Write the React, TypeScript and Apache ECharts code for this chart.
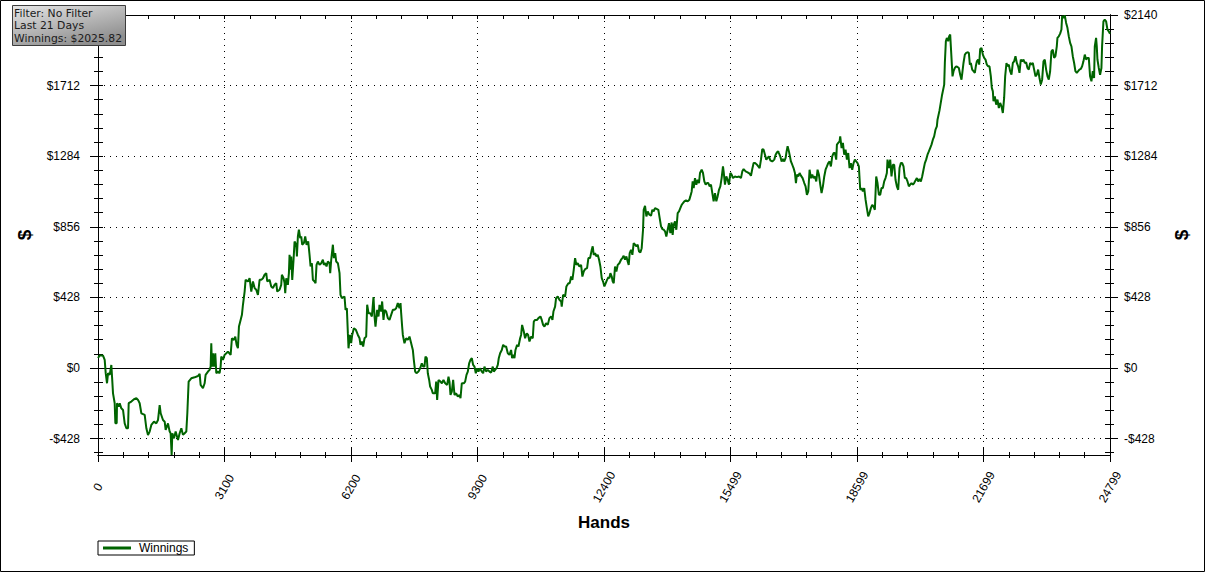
import React, { useEffect, useRef } from "react";
import * as echarts from "echarts";

// ---- data (hands played, cumulative winnings in $) ----
const HANDS_MAX = 24799;
const Y_MIN = -528;
const Y_MAX = 2140;
const yMajorTicks = [-428, 0, 428, 856, 1284, 1712, 2140];
// the info box hides the top label on the left side
const yLeftLabels = [-428, 0, 428, 856, 1284, 1712];
const infoLines = ["Filter: No Filter", "Last 21 Days", "Winnings: $2025.82"];
const seriesName = "Winnings";
const xTitle = "Hands";
const yTitle = "$";

const run1: [number, number][] = [
  [0, 60], [42, 75], [123, 75], [164, 49], [189, -32], [221, -93], [246, -32], [287, -42], [327, 18], [344, -53],
  [368, -154], [409, -214], [425, -336], [458, -336], [466, -214], [507, -235], [532, -214], [572, -245], [613, -255], [654, -336],
  [695, -366], [736, -366], [752, -214], [817, -204], [882, -190], [940, -184], [981, -194], [1021, -214], [1062, -275], [1144, -285],
  [1185, -366], [1225, -407], [1266, -386], [1307, -346], [1372, -326], [1429, -336], [1470, -316], [1511, -225], [1536, -275], [1593, -316],
  [1634, -326], [1658, -376], [1715, -336], [1756, -386], [1780, -397], [1805, -528], [1821, -396], [1862, -427], [1903, -386], [1960, -437],
  [2001, -396], [2042, -366], [2082, -406], [2123, -396], [2164, -386], [2189, -275], [2221, -83], [2286, -63], [2368, -57], [2450, -49],
  [2491, -36], [2515, -103], [2572, -123], [2613, -93], [2637, -42], [2695, -22], [2735, -12], [2760, 8], [2776, 150], [2793, 8],
  [2817, 89], [2842, 8], [2874, 89], [2899, -32], [2940, -22], [2980, -32], [3005, 8], [3021, 69], [3062, 49], [3103, 79],
  [3144, 89], [3184, 99], [3250, 79], [3282, 180], [3331, 170], [3364, 190], [3397, 140], [3429, 120], [3454, 251], [3495, 291],
  [3527, 322], [3552, 383], [3593, 463], [3617, 534], [3674, 524], [3715, 544], [3756, 463], [3797, 524], [3838, 484], [3878, 474],
  [3919, 443], [3960, 534], [4001, 534], [4042, 544], [4082, 565],
];

const run2: [number, number][] = [
  [4123, 575], [4147, 524], [4204, 534], [4245, 494], [4286, 484], [4327, 504], [4368, 514], [4392, 463], [4449, 474], [4490, 504],
  [4506, 565], [4547, 544], [4572, 514], [4588, 453], [4613, 544], [4653, 504], [4678, 575], [4694, 686], [4719, 595], [4735, 676],
  [4760, 534], [4792, 656], [4817, 767], [4858, 747], [4874, 676], [4898, 797], [4923, 838], [4955, 787], [4980, 797], [5004, 747],
  [5045, 757], [5078, 797], [5111, 747], [5151, 767], [5184, 686], [5209, 615], [5241, 635], [5266, 534], [5306, 524], [5331, 514],
  [5355, 625], [5388, 645], [5429, 625], [5470, 635], [5511, 656], [5535, 625], [5568, 635], [5600, 615], [5633, 645], [5674, 635],
  [5690, 575], [5715, 656], [5756, 747], [5780, 666], [5813, 696], [5837, 645], [5878, 635], [5919, 575], [5943, 443], [5976, 423],
  [6041, 433], [6066, 352], [6098, 362], [6123, 211], [6139, 119], [6172, 200], [6204, 150], [6229, 200], [6270, 241], [6319, 231],
  [6368, 200], [6409, 180], [6433, 140], [6466, 160], [6498, 130], [6531, 180], [6572, 190], [6596, 383], [6629, 332], [6670, 332],
  [6711, 312], [6751, 429], [6776, 312], [6800, 251], [6841, 352], [6874, 312], [6898, 382], [6939, 342], [6963, 403], [6996, 291],
  [7021, 352], [7061, 342], [7102, 302], [7143, 291], [7184, 322], [7225, 352], [7266, 352], [7306, 362], [7347, 393], [7388, 362],
  [7413, 393], [7429, 332], [7453, 251], [7470, 200], [7510, 150], [7551, 180], [7592, 170], [7633, 190], [7674, 150], [7715, 109],
  [7739, 49], [7772, -22], [7804, -32], [7853, -22], [7894, -2], [7935, 28], [7968, 8], [8000, 8], [8025, 69], [8058, 59],
  [8082, -32], [8115, -73], [8139, -113], [8180, -133], [8204, -154], [8262, -154],
];

const run3: [number, number][] = [
  [8287, -83], [8311, -194], [8344, -73], [8393, -83], [8426, -93], [8466, -73], [8507, -93], [8556, -103], [8589, -53], [8613, -83],
  [8638, -164], [8670, -144], [8703, -73], [8736, -164], [8777, -154], [8817, -174], [8858, -164], [8883, -184], [8915, -93], [8964, -93],
  [8997, -83], [9030, -42], [9062, -22], [9095, 28], [9128, 49], [9160, 59], [9193, 18], [9226, 8], [9258, -32], [9291, -2],
  [9324, -22], [9356, -2], [9405, -22], [9438, -32], [9470, 8], [9511, -22], [9552, -12], [9593, -22], [9633, -28], [9674, 8],
  [9699, -22], [9732, -12], [9764, -2], [9797, 18], [9821, 59], [9854, 89], [9895, 109], [9928, 140], [9960, 130], [10001, 130],
  [10042, 89], [10083, 79], [10123, 109], [10148, 59], [10180, 79], [10205, 59], [10230, 109], [10270, 140], [10303, 130], [10344, 180],
  [10368, 200], [10393, 261], [10434, 221], [10466, 180], [10507, 210], [10540, 200], [10573, 160], [10613, 190], [10654, 180], [10679, 281],
  [10711, 291], [10760, 291], [10793, 302], [10842, 312], [10874, 291], [10907, 261], [10940, 251], [10980, 271], [11021, 261], [11062, 302],
  [11103, 312], [11136, 291], [11160, 342], [11201, 372], [11225, 423], [11266, 433], [11307, 413], [11348, 403], [11364, 372], [11397, 443],
  [11446, 433], [11478, 494], [11527, 514], [11560, 514], [11593, 554], [11625, 534], [11658, 595], [11691, 666], [11723, 625], [11756, 635],
  [11797, 615], [11838, 625], [11870, 554], [11903, 585], [11936, 599], [11985, 605], [12017, 666], [12058, 666], [12099, 716], [12123, 737],
  [12148, 686], [12181, 696], [12213, 676], [12246, 686], [12279, 656], [12311, 615], [12344, 544], [12377, 524], [12409, 494], [12442, 514],
  [12474, 534], [12507, 550],
];

const run4: [number, number][] = [
  [12531, 544], [12556, 575], [12589, 554], [12613, 524], [12638, 514], [12670, 615], [12703, 585], [12736, 625], [12776, 635], [12817, 656],
  [12850, 666], [12882, 680], [12915, 656], [12948, 676], [12980, 645], [13005, 625], [13029, 696], [13062, 716], [13095, 686], [13127, 757],
  [13160, 747], [13193, 737], [13225, 747], [13258, 706], [13291, 700], [13323, 726], [13356, 838], [13372, 959], [13405, 983], [13438, 919],
  [13471, 949], [13511, 929], [13552, 923], [13584, 959], [13617, 949], [13650, 969], [13699, 963], [13731, 959], [13764, 908], [13797, 858],
  [13829, 842], [13862, 838], [13895, 828], [13927, 797], [13960, 838], [13993, 878], [14025, 817], [14058, 882], [14082, 807], [14107, 868],
  [14140, 888], [14172, 838], [14205, 939], [14238, 949], [14270, 969], [14303, 989], [14336, 1000], [14368, 1010], [14409, 1016], [14450, 1010],
  [14491, 1020], [14515, 1040], [14548, 1070], [14572, 1131], [14597, 1091], [14629, 1151], [14662, 1111], [14695, 1141], [14727, 1121], [14752, 1182],
  [14793, 1202], [14825, 1182], [14858, 1131], [14891, 1111], [14923, 1121], [14956, 1121], [14989, 1101], [15021, 1111], [15054, 1060], [15086, 1010],
  [15119, 1060], [15152, 1010], [15184, 1040], [15217, 1080], [15250, 1101], [15282, 1151], [15315, 1222], [15331, 1192], [15364, 1111], [15397, 1161],
  [15429, 1141], [15462, 1111], [15495, 1182], [15527, 1172], [15560, 1151], [15609, 1161], [15658, 1157], [15707, 1161], [15756, 1151], [15789, 1192],
  [15821, 1206], [15870, 1192], [15919, 1186], [15968, 1178], [16001, 1165], [16033, 1206], [16066, 1242], [16107, 1242], [16148, 1232], [16180, 1222],
  [16213, 1212], [16246, 1263], [16278, 1327], [16311, 1323], [16344, 1293], [16376, 1263], [16409, 1273], [16442, 1283], [16474, 1259], [16523, 1252],
  [16572, 1263], [16605, 1293], [16638, 1307], [16670, 1313],
];

const run5: [number, number][] = [
  [16686, 1303], [16719, 1283], [16752, 1252], [16784, 1267], [16817, 1252], [16850, 1273], [16874, 1313], [16899, 1344], [16931, 1313], [16956, 1283],
  [16980, 1252], [17013, 1232], [17045, 1212], [17078, 1182], [17103, 1121], [17127, 1172], [17160, 1161], [17192, 1182], [17225, 1166], [17266, 1151],
  [17307, 1121], [17339, 1101], [17372, 1050], [17405, 1070], [17437, 1202], [17470, 1151], [17503, 1172], [17535, 1151], [17568, 1161], [17601, 1131],
  [17633, 1202], [17666, 1172], [17699, 1111], [17731, 1060], [17764, 1101], [17797, 1161], [17829, 1202], [17862, 1222], [17894, 1242], [17927, 1252],
  [17960, 1222], [17992, 1283], [18025, 1303], [18058, 1303], [18090, 1263], [18107, 1354], [18139, 1364], [18172, 1374], [18188, 1404], [18221, 1333],
  [18254, 1364], [18286, 1293], [18319, 1323], [18352, 1263], [18384, 1303], [18417, 1212], [18449, 1242], [18482, 1202], [18515, 1242], [18547, 1263],
  [18580, 1252], [18613, 1242], [18645, 1222], [18678, 1080], [18711, 1091], [18743, 1070], [18776, 1091], [18809, 1020], [18841, 969], [18874, 919],
  [18906, 939], [18939, 969], [18972, 989], [19004, 979], [19037, 959], [19070, 1161], [19102, 1121], [19135, 1050], [19168, 1050], [19200, 1091],
  [19233, 1091], [19266, 1131], [19298, 1151], [19331, 1182], [19347, 1263], [19380, 1212], [19413, 1263], [19445, 1161], [19478, 1232], [19511, 1232],
  [19543, 1141], [19576, 1101], [19609, 1080], [19641, 1212], [19674, 1242], [19707, 1242], [19739, 1222], [19772, 1151], [19804, 1151], [19837, 1131],
  [19870, 1101], [19902, 1111], [19935, 1121], [19968, 1111], [20000, 1121], [20033, 1137], [20066, 1151], [20098, 1131], [20131, 1145], [20164, 1131],
  [20196, 1161], [20229, 1202], [20262, 1242], [20294, 1263], [20327, 1293], [20360, 1313], [20392, 1333], [20425, 1354], [20458, 1384], [20490, 1404],
  [20523, 1445], [20556, 1465], [20572, 1505], [20620, 1560], [20680, 1650], [20736, 1718],
];

const run6: [number, number][] = [
  [20752, 1849], [20777, 1981], [20801, 2001], [20834, 1981], [20858, 2011], [20883, 2021], [20899, 1950], [20924, 1839], [20940, 1768], [20965, 1799],
  [20997, 1819], [21030, 1829], [21063, 1825], [21095, 1819], [21128, 1778], [21160, 1748], [21185, 1799], [21209, 1849], [21242, 1900], [21275, 1910],
  [21307, 1914], [21340, 1910], [21365, 1839], [21389, 1849], [21422, 1809], [21454, 1799], [21487, 1789], [21511, 1829], [21536, 1859], [21568, 1870],
  [21593, 1839], [21618, 1934], [21650, 1940], [21683, 1900], [21716, 1880], [21748, 1870], [21781, 1839], [21814, 1829], [21846, 1829], [21879, 1768],
  [21903, 1698], [21928, 1677], [21944, 1617], [21977, 1647], [22009, 1596], [22042, 1627], [22075, 1576], [22107, 1607], [22140, 1586], [22173, 1546],
  [22205, 1637], [22230, 1768], [22262, 1849], [22287, 1829], [22320, 1839], [22352, 1799], [22385, 1778], [22418, 1849], [22450, 1859], [22483, 1890],
  [22516, 1849], [22548, 1829], [22581, 1789], [22613, 1870], [22646, 1859], [22679, 1870], [22711, 1849], [22744, 1853], [22777, 1819], [22809, 1809],
  [22842, 1849], [22875, 1839], [22907, 1849], [22940, 1809], [22973, 1768], [23005, 1778], [23038, 1809], [23071, 1758], [23103, 1718], [23136, 1748],
  [23169, 1859], [23201, 1870], [23234, 1809], [23267, 1768], [23299, 1748], [23332, 1799], [23364, 1920], [23397, 1930], [23430, 1880], [23462, 1890],
  [23495, 1950], [23511, 2001], [23544, 2011], [23577, 2027], [23609, 2052], [23626, 2133], [23658, 2122], [23691, 2137], [23724, 2092], [23756, 2062],
  [23789, 2011], [23822, 1971], [23854, 1950], [23887, 1890], [23920, 1849], [23952, 1799], [23985, 1789], [24018, 1799], [24050, 1809], [24083, 1813],
  [24116, 1829], [24148, 1859], [24181, 1900], [24214, 1870], [24246, 1880], [24279, 1880], [24311, 1768], [24344, 1738], [24377, 1799], [24409, 1758],
  [24426, 1950], [24458, 2001], [24475, 1950], [24491, 1870], [24524, 1819], [24556, 1778], [24589, 1819], [24605, 1950], [24638, 2102], [24670, 2112],
  [24703, 2102], [24736, 2052], [24768, 2041], [24799, 2026],
];

const winnings = [...run1, ...run2, ...run3, ...run4, ...run5, ...run6];

// minor tick positions on the $ axis (5 per major step)
const yStep = (yMajorTicks[1] - yMajorTicks[0]) / 5;
const yMinorTicks: number[] = [];
for (let k = Math.ceil(Y_MIN / yStep); k * yStep <= Y_MAX + 1e-6; k++) {
  if (k % 5 !== 0) yMinorTicks.push(+(k * yStep).toFixed(4));
}
const yAllTicks = [...yMinorTicks, ...yMajorTicks].sort((a, b) => a - b);

const BLACK = "#000000";
const GREEN = "#006400";
const FONT = "'Liberation Sans', Arial, sans-serif";

const fmtDollar = (v: number) => (v < 0 ? `-$${Math.round(-v)}` : `$${Math.round(v)}`);

function yAxisDef(position: "left" | "right", kind: "main" | "in" | "out") {
  const base: any = {
    type: "value",
    position,
    min: Y_MIN,
    max: Y_MAX,
    axisLine: { show: true, lineStyle: { color: BLACK, width: 1 } },
    splitLine: { show: false },
    axisLabel: { show: false },
  };
  if (kind === "main") {
    base.axisTick = { show: true, customValues: yMajorTicks, length: 8, inside: false, lineStyle: { color: BLACK } };
    base.axisLabel = {
      show: true,
      customValues: position === "left" ? yLeftLabels : yMajorTicks,
      formatter: fmtDollar,
      margin: position === "left" ? 18 : 14,
      color: BLACK,
      fontSize: 12,
      fontFamily: FONT,
    };
    base.name = yTitle;
    base.nameLocation = "middle";
    base.nameRotate = 90;
    base.nameGap = position === "left" ? 64 : 62;
    base.nameTextStyle = { fontSize: 19, fontWeight: "bold", color: BLACK, fontFamily: FONT };
    if (position === "left") {
      base.splitLine = { show: true, lineStyle: { color: BLACK, width: 1, type: [1, 5] } };
    }
  } else if (kind === "in") {
    base.axisTick = { show: true, customValues: yAllTicks, length: 5, inside: true, lineStyle: { color: BLACK } };
  } else {
    base.axisTick = { show: true, customValues: yMinorTicks, length: 4, inside: false, lineStyle: { color: BLACK } };
  }
  return base;
}

const xBase = {
  type: "value",
  min: 0,
  max: HANDS_MAX,
  axisLine: { show: true, onZero: false, lineStyle: { color: BLACK, width: 1 } },
};

const option: any = {
  animation: false,
  backgroundColor: "#ffffff",
  grid: { left: 98, top: 15, width: 1012, height: 440, containLabel: false },
  legend: {
    show: true,
    left: 98,
    top: 541,
    data: [{ name: seriesName, icon: "rect" }],
    itemWidth: 28,
    itemHeight: 3,
    borderColor: BLACK,
    borderWidth: 1,
    borderRadius: 0,
    padding: [1, 6, 1, 5],
    textStyle: { fontSize: 12, color: BLACK, fontFamily: FONT, padding: [0, 0, 0, 3] },
    selectedMode: false,
  },
  xAxis: [
    {
      ...xBase,
      position: "bottom",
      interval: HANDS_MAX / 8,
      axisTick: { show: true, length: 7, inside: false, lineStyle: { color: BLACK } },
      minorTick: { show: true, splitNumber: 5, length: 3, lineStyle: { color: BLACK } },
      axisLabel: {
        show: true,
        rotate: 60,
        margin: 32,
        align: "center",
        verticalAlign: "middle",
        color: BLACK,
        fontSize: 12,
        fontFamily: FONT,
        formatter: (v: number) => String(Math.round(v)),
      },
      splitLine: { show: true, lineStyle: { color: BLACK, width: 1, type: [1, 5] } },
      name: xTitle,
      nameLocation: "middle",
      nameGap: 59,
      nameTextStyle: { fontSize: 17, fontWeight: "bold", color: BLACK, fontFamily: FONT },
    },
    {
      ...xBase,
      position: "bottom",
      interval: HANDS_MAX / 8,
      axisTick: { show: true, length: 7, inside: true, lineStyle: { color: BLACK } },
      minorTick: { show: true, splitNumber: 5, length: 3, lineStyle: { color: BLACK } },
      axisLabel: { show: false },
      splitLine: { show: false },
    },
    {
      ...xBase,
      position: "top",
      interval: HANDS_MAX / 40,
      axisTick: { show: true, length: 4, inside: true, lineStyle: { color: BLACK } },
      axisLabel: { show: false },
      splitLine: { show: false },
    },
  ],
  yAxis: [
    yAxisDef("left", "main"),
    yAxisDef("left", "in"),
    yAxisDef("left", "out"),
    yAxisDef("right", "main"),
    yAxisDef("right", "in"),
    yAxisDef("right", "out"),
  ],
  series: [
    {
      type: "line",
      name: seriesName,
      xAxisIndex: 0,
      yAxisIndex: 0,
      data: winnings,
      showSymbol: false,
      symbol: "none",
      lineStyle: { color: GREEN, width: 2 },
      itemStyle: { color: GREEN },
      z: 3,
      markLine: {
        silent: true,
        symbol: ["none", "none"],
        label: { show: false },
        lineStyle: { color: BLACK, type: "solid", width: 1 },
        data: [{ yAxis: 0 }],
        z: 2,
      },
    },
  ],
  graphic: [
    {
      type: "rect",
      z: 100,
      shape: { x: 0.5, y: 0.5, width: 1204, height: 571 },
      style: { fill: "none", stroke: BLACK, lineWidth: 1 },
      silent: true,
    },
    {
      type: "group",
      z: 100,
      left: 12,
      top: 5,
      children: [
        {
          type: "rect",
          z: 100,
          shape: { x: 0.5, y: 0.5, width: 113, height: 40 },
          style: {
            fill: {
              type: "linear",
              x: 0,
              y: 0,
              x2: 0.6,
              y2: 1,
              colorStops: [
                { offset: 0, color: "#e6e6e6" },
                { offset: 1, color: "#8e8e8e" },
              ],
            },
            stroke: "#3c3c3c",
            lineWidth: 1,
          },
        },
        ...infoLines.map((t, i) => ({
          type: "text",
          z: 101,
          x: 2,
          y: 8 + i * 12.8,
          style: {
            text: t,
            fill: "#1a1a1a",
            font: "10.8px 'DejaVu Sans', sans-serif",
            verticalAlign: "middle",
            align: "left",
          },
        })),
      ],
    },
  ],
};

export default function App() {
  const ref = useRef<HTMLDivElement>(null);
  useEffect(() => {
    if (!ref.current) return;
    const chart = echarts.init(ref.current, undefined, { renderer: "svg" });
    chart.setOption(option);
    return () => chart.dispose();
  }, []);
  return (
    <div
      ref={ref}
      style={{ position: "absolute", left: 0, top: 0, width: 1208, height: 573, background: "#ffffff" }}
    />
  );
}
